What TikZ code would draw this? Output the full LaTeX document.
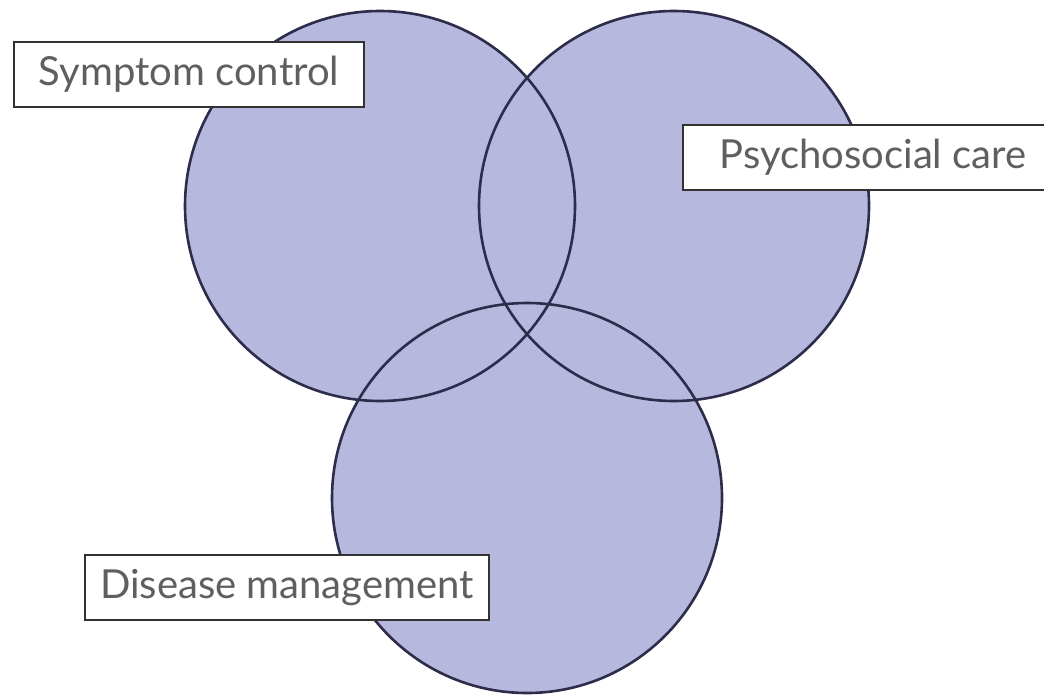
\documentclass[tikz,border=0pt]{standalone}
\usepackage{fontspec}
\setmainfont{Lato}
\definecolor{circfill}{RGB}{182,184,222}
\definecolor{circline}{RGB}{45,45,75}
\definecolor{labeltext}{RGB}{95,95,95}
\definecolor{boxline}{RGB}{50,50,50}
\begin{document}
\begin{tikzpicture}[x=1pt,y=-1pt,
  venn/.style={circle,minimum size=390pt,inner sep=0pt},
  labelbox/.style={draw=boxline,line width=2.6pt,fill=white,text=labeltext,
    minimum height=65pt,inner sep=0pt,font=\fontsize{40}{48}\selectfont}]
\useasboundingbox (0,0) rectangle (1044,696);
% fills
\node[venn,fill=circfill] (sc) at (380,206) {};
\node[venn,fill=circfill] (pc) at (674,206) {};
\node[venn,fill=circfill] (dm) at (527,498) {};
% outlines
\draw[circline,line width=2.6pt] (sc.center) circle[radius=195pt];
\draw[circline,line width=2.6pt] (pc.center) circle[radius=195pt];
\draw[circline,line width=2.6pt] (dm.center) circle[radius=195pt];
% labels
\node[labelbox,minimum width=350pt] (lsc) at (189,74.5) {Symptom control};
\node[labelbox,minimum width=380pt] (lpc) at (873,157.5) {Psychosocial care\hspace{12pt}};
\node[labelbox,minimum width=404pt] (ldm) at (287,587.5) {Disease management};
\end{tikzpicture}
\end{document}
